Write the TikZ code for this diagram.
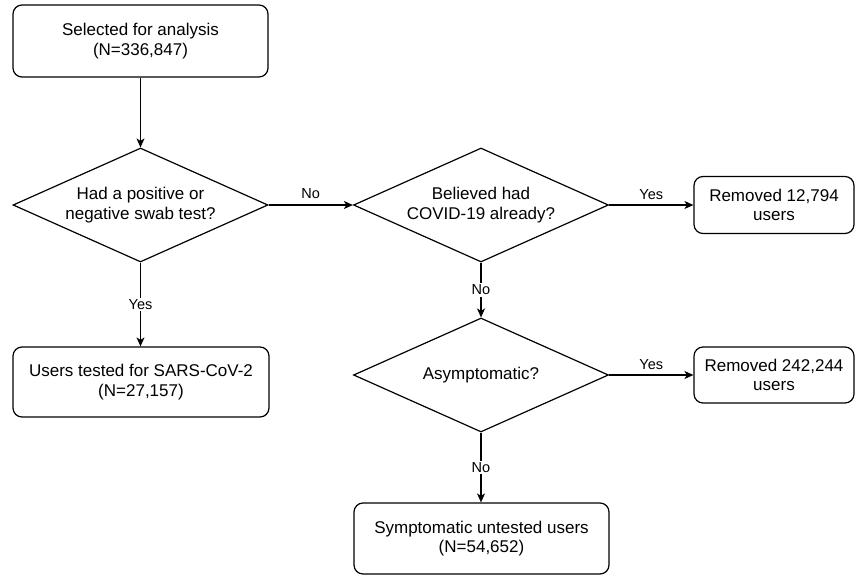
\documentclass[tikz,border=0pt]{standalone}
\usepackage{fontspec}
\setmainfont{Liberation Sans}
\usetikzlibrary{shapes.geometric,arrows.meta}
\tikzset{
  box/.style={draw, rounded corners=9pt, line width=1.2pt, inner sep=0pt, align=center,
    font=\fontsize{17}{19.5}\selectfont},
  decision/.style={draw, diamond, shape aspect=2.237, line width=1.2pt, inner sep=0pt, align=center,
    minimum width=255pt, minimum height=114pt,
    font=\fontsize{17}{19.5}\selectfont},
  conn/.style={line width=1.2pt, -{Stealth[length=9pt,width=8pt,inset=2.5pt]}},
  lbl/.style={font=\fontsize{14.5}{17}\selectfont, inner sep=1.5pt},
  vlbl/.style={lbl, fill=white}
}
\begin{document}
\begin{tikzpicture}[x=1pt,y=-1pt]
\useasboundingbox (0,0) rectangle (856,575);
\node[box, minimum width=255pt, minimum height=72pt] (sel) at (140.5,41) {Selected for analysis\\(N=336,847)};
\node[decision] (d1) at (140.5,205) {Had a positive or\\negative swab test?};
\node[box, minimum width=256pt, minimum height=70pt] (tested) at (141,382) {Users tested for SARS-CoV-2\\(N=27,157)};
\node[decision] (d2) at (481,205) {Believed had\\COVID-19 already?};
\node[box, minimum width=160pt, minimum height=57pt] (r1) at (774,205) {Removed 12,794\\users};
\node[decision] (d3) at (481,375) {Asymptomatic?};
\node[box, minimum width=160pt, minimum height=56pt] (r2) at (774,375) {Removed 242,244\\users};
\node[box, minimum width=255pt, minimum height=71pt] (symp) at (481.5,538.5) {Symptomatic untested users\\(N=54,652)};

\draw[conn] (sel.south) -- (d1.north);
\draw[conn] (d1.south) -- node[vlbl, pos=0.5] {Yes} (tested.north -| d1.south);
\draw[conn] (d1.east) -- node[lbl, above=4pt, pos=0.5] {No} (d2.west);
\draw[conn] (d2.east) -- node[lbl, above=3pt, pos=0.5] {Yes} (r1.west);
\draw[conn] (d2.south) -- node[vlbl, pos=0.5] {No} (d3.north);
\draw[conn] (d3.east) -- node[lbl, above=3pt, pos=0.5] {Yes} (r2.west);
\draw[conn] (d3.south) -- node[vlbl, pos=0.5] {No} (symp.north -| d3.south);
\end{tikzpicture}
\end{document}
